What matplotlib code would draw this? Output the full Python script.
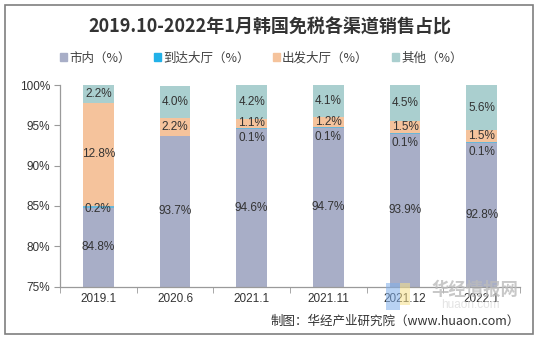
import matplotlib
matplotlib.use('Agg')
import numpy as np
import matplotlib.pyplot as plt
from matplotlib.patches import Rectangle

CJK = ['Noto Sans CJK SC', 'DejaVu Sans']
LATIN = ['Liberation Sans', 'DejaVu Sans']

periods = ['2019.1', '2020.6', '2021.1', '2021.11', '2021.12', '2022.1']
series_names = ['市内（%）', '到达大厅（%）', '出发大厅（%）', '其他（%）']
downtown = [84.8, 93.7, 94.6, 94.7, 93.9, 92.8]
arrival = [0.2, 0.0, 0.1, 0.1, 0.1, 0.1]
departure = [12.8, 2.2, 1.1, 1.2, 1.5, 1.5]
other = [2.2, 4.0, 4.2, 4.1, 4.5, 5.6]
yticks = [75, 80, 85, 90, 95, 100]

bar_colors = ['#A8AEC7', '#6AB6D8', '#F5C39C', '#AACFCF']
legend_colors = ['#A8AEC7', '#22B1E8', '#F5C39C', '#AACFCF']

fig = plt.figure(figsize=(5.39, 3.39), dpi=100)
fig.patches.append(Rectangle((5 / 539, 1 - 334 / 339), 528 / 539, 329 / 339,
                             transform=fig.transFigure, fill=False,
                             edgecolor='#7F7F7F', linewidth=1.2))
ax = fig.add_axes([60 / 539, 1 - 286.5 / 339, 460 / 539, 201.5 / 339])

x = np.arange(len(periods))
width = 0.4
bottom = np.zeros(len(periods))
all_series = [downtown, arrival, departure, other]
for i, (vals, color) in enumerate(zip(all_series, bar_colors)):
    vals = np.array(vals)
    ax.bar(x, vals, width, bottom=bottom, color=color, linewidth=0)
    for j, v in enumerate(vals):
        if v <= 0:
            continue
        lo = max(bottom[j], 75)
        hi = bottom[j] + v
        ymid = (lo + hi) / 2
        dy = 0
        # small arrival slice: push the label below so it clears the departure label
        if i == 1 and departure[j] < 3:
            dy = -7
        elif i == 1:
            dy = -1.5
        ax.annotate(f'{v:.1f}%', (x[j], ymid), xytext=(0, dy),
                    textcoords='offset points', ha='center', va='center',
                    fontsize=8.5, color='#333333', family=LATIN)
    bottom = bottom + vals

ax.set_ylim(75, 100)
ax.set_xlim(-0.5, len(periods) - 0.5)
ax.set_yticks(yticks)
ax.set_yticklabels([f'{t}%' for t in yticks], family=LATIN, fontsize=8.5,
                   color='#333333')
ax.set_xticks(x)
ax.set_xticklabels(periods, family=LATIN, fontsize=8.5, color='#333333')
ax.set_xticks(np.arange(len(periods) + 1) - 0.5, minor=True)
ax.tick_params(axis='x', which='major', length=0, pad=5)
ax.tick_params(axis='x', which='minor', length=4, color='#9A9A9A', direction='out')
ax.tick_params(axis='y', length=4, color='#9A9A9A', pad=3)
for side in ['top', 'right']:
    ax.spines[side].set_visible(False)
for side in ['left', 'bottom']:
    ax.spines[side].set_color('#9A9A9A')
    ax.spines[side].set_linewidth(0.9)

fig.text(0.5, 1 - 27 / 339, '2019.10-2022年1月韩国免税各渠道销售占比',
         ha='center', va='center', fontsize=13, fontweight='bold',
         family=CJK, color='#333333')

proxies = [Rectangle((0, 0), 1, 1, color=c) for c in legend_colors]
fig.legend(proxies, series_names, loc='center', ncol=4,
           bbox_to_anchor=(0.485, 1 - 58 / 339), frameon=False,
           prop={'family': CJK, 'size': 9}, handlelength=0.55,
           handleheight=0.55, handletextpad=0.15, columnspacing=1.9,
           labelcolor='#404040')

# faint watermark in the lower right
fig.patches.append(Rectangle((386 / 539, 1 - 310 / 339), 14 / 539, 27 / 339,
                             transform=fig.transFigure, color='#7FAEEA',
                             alpha=0.55, linewidth=0))
fig.patches.append(Rectangle((400 / 539, 1 - 305 / 339), 10 / 539, 22 / 339,
                             transform=fig.transFigure, color='#F6E08A',
                             alpha=0.55, linewidth=0))
fig.text(475 / 539, 1 - 290 / 339, '华经情报网', ha='center', va='center',
         fontsize=12.5, fontweight='bold', family=CJK, color='#BBBBBB',
         alpha=0.8)
fig.text(470 / 539, 1 - 305 / 339, 'huaon.com', ha='center', va='center',
         fontsize=8.5, family=LATIN, color='#DDDDDD', alpha=0.8)

fig.text(520 / 539, 1 - 321 / 339, '制图：华经产业研究院（www.huaon.com）',
         ha='right', va='center', fontsize=9, family=CJK, color='#333333')

fig.savefig('out.png', dpi=100)
